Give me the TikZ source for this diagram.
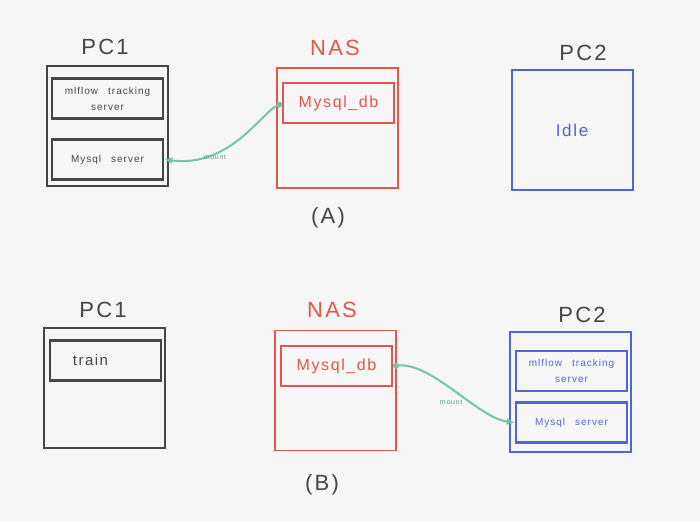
\documentclass[tikz,border=0pt]{standalone}
\usepackage{fontspec}
\setmainfont[LetterSpace=10]{Liberation Sans}
\usetikzlibrary{arrows.meta}
\definecolor{paper}{HTML}{F6F6F6}
\definecolor{pencil}{HTML}{454545}
\definecolor{nasred}{HTML}{E2574C}
\definecolor{pcblue}{HTML}{5565CF}
\definecolor{mintline}{HTML}{72C4A8}

\begin{document}
\begin{tikzpicture}[x=1pt,y=-1pt,
  box/.style={draw,line width=2pt,minimum width=121pt,minimum height=120pt,inner sep=0pt},
  inbox/.style={draw,line width=2.6pt,minimum width=111pt,minimum height=40pt,inner sep=0pt,align=center,font=\fontsize{10}{16}\selectfont},
  title/.style={text=pencil,font=\fontsize{22}{22}\selectfont},
  mountline/.style={draw=mintline,line width=2pt,{Circle[length=6pt]}-{Latex[length=8pt,width=7pt]}},
  mountlabel/.style={text=mintline!80!black,inner sep=1.5pt,font=\fontsize{7}{7}\selectfont}]
\fill[paper] (0,0) rectangle (700,521);

% (A)
\path (105, 47) node[title] (pc1a-t) {PC1};
\path (335, 48) node[title,text=nasred] (nasa-t) {NAS};
\path (583, 53) node[title] (pc2a-t) {PC2};
\path (107,126) node[box,draw=pencil] (pc1a) {};
\path (107.5,98.5) node[inbox,draw=pencil,text=pencil] (pc1a-flow) {mlflow\quad tracking\\server};
\path (107.5,159.5) node[inbox,draw=pencil,text=pencil] (pc1a-sql) {Mysql\quad server};
\path (337.5,128) node[box,draw=nasred,line width=1.7pt] (nasa) {};
\path (338.5,103.5) node[inbox,draw=nasred,text=nasred,line width=2pt,font=\fontsize{16}{16}\selectfont] (nasa-db) {Mysql\_db};
\path (572,130) node[box,draw=pcblue,text=pcblue,font=\fontsize{17}{17}\selectfont] (pc2a) {Idle\hspace{10pt}};
\path (328,218) node[title] (case-a) {(A)};
\draw[mountline]
       (nasa-db.west) .. controls (262,112) and (230,168) .. (pc1a-sql.east)
          node[pos=.7,below,mountlabel] {mount};

% (B)
\path (103,310) node[title] (pc1b-t) {PC1};
\path (332,310) node[title,text=nasred] (nasb-t) {NAS};
\path (582,315) node[title] (pc2b-t) {PC2};
\path (104.5,388) node[box,draw=pencil] (pc1b) {};
\path (105.5,360.5) node[inbox,draw=pencil,text=pencil,font=\fontsize{15}{15}\selectfont] (pc1b-train) {train\hspace{30pt}};
\path (335.5,390.5) node[box,draw=nasred,line width=1.7pt] (nasb) {};
\path (336.5,366) node[inbox,draw=nasred,text=nasred,line width=2pt,font=\fontsize{16}{16}\selectfont] (nasb-db) {Mysql\_db};
\path (570,392) node[box,draw=pcblue] (pc2b) {};
\path (571.5,371) node[inbox,draw=pcblue,text=pcblue] (pc2b-flow) {mlflow\quad tracking\\server};
\path (571.5,422.5) node[inbox,draw=pcblue,text=pcblue] (pc2b-sql) {Mysql\quad server};
\path (322,485) node[title] (case-b) {(B)};
\draw[mountline]
       (nasb-db.east) .. controls (432,362) and (478,418) .. (pc2b-sql.west)
          node[pos=.58,below left,mountlabel] {mount};
\end{tikzpicture}
\end{document}
